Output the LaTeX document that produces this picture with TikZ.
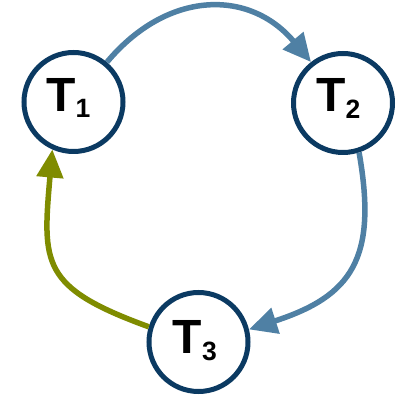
\documentclass[tikz,border=0pt]{standalone}
\usepackage{fontspec}
\setmainfont{Liberation Sans}
\usetikzlibrary{arrows.meta,shadows}
\definecolor{navy}{HTML}{0B3A62}
\definecolor{steel}{HTML}{4F80A4}
\definecolor{olive}{HTML}{7F8C00}
\tikzset{
  circ/.style={circle, draw=navy, line width=5pt, fill=white, minimum size=99pt, inner sep=0pt,
    drop shadow={opacity=0.18, shadow xshift=1.5pt, shadow yshift=-2pt}},
  lab/.style={inner sep=0pt, text=black, anchor=base west},
  conn/.style={line width=5.5pt, -{Triangle[length=28pt,width=26pt]}},
}
\newcommand{\tlab}[1]{{\fontsize{48}{48}\selectfont\bfseries T}\raisebox{-6.3pt}{\fontsize{26.5}{26.5}\selectfont\bfseries #1}}
\begin{document}
\begin{tikzpicture}[x=1pt,y=1pt]
\useasboundingbox (0,0) rectangle (399,396);
\node[circ] (t1) at (73.5,294) {};
\node[circ] (t2) at (343,293) {};
\node[circ] (t3) at (198.5,54) {};
\node[lab] (l1) at ([shift={(-27.5,-9.5)}]t1.center) {\tlab{1}};
\node[lab] (l2) at ([shift={(-27,-9)}]t2.center) {\tlab{2}};
\node[lab] (l3) at ([shift={(-26,-12)}]t3.center) {\tlab{3}};
\draw[conn, steel] (t1.50) .. controls +(50:95) and +(130:95) .. (t2.128);
\draw[conn, steel] (t2.-72) .. controls +(-80:108) and +(18:108) .. (t3.14);
\draw[conn, olive] (t3.163) .. controls +(160:115) and +(-95:115) .. (t1.246);
\end{tikzpicture}
\end{document}
